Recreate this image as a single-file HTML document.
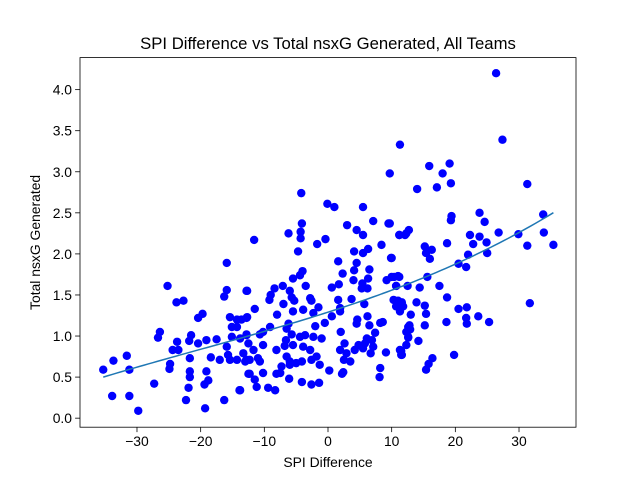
<!DOCTYPE html>
<html><head><meta charset="utf-8">
<style>
body{margin:0;background:#fff;}
svg{display:block;font-family:"Liberation Sans",sans-serif;}
</style></head>
<body>
<svg id="chart" width="640" height="480" viewBox="0 0 640 480">
<rect width="640" height="480" fill="#fff"/>
<text x="328" y="49" text-anchor="middle" font-size="16.7" fill="#000">SPI Difference vs Total nsxG Generated, All Teams</text>
<text x="328" y="467" text-anchor="middle" font-size="13.9" fill="#000">SPI Difference</text>
<text transform="translate(40,242.4) rotate(-90)" text-anchor="middle" font-size="13.9" fill="#000">Total nsxG Generated</text>
<g id="ticks"></g>
<g id="marks"></g>
<rect x="80" y="57.6" width="496" height="369.6" fill="none" stroke="#000" stroke-width="0.8"/>
</svg>
<script>
const xTicks = [-30,-20,-10,0,10,20,30];
const xTickLabels = ["\u221230","\u221220","\u221210","0","10","20","30"];
const yTicks = [0,0.5,1,1.5,2,2.5,3,3.5,4];
const yTickLabels = ["0.0","0.5","1.0","1.5","2.0","2.5","3.0","3.5","4.0"];
const spiDiff = [-15.9,-25.2,-23.8,-22.7,-20.4,-19.7,-26.4,-26.7,-23.7,-24.4,-23.5,-21.5,-21.8,-20.4,-19.1,-17.5,-21.7,-18.4,-17.0,-24.8,-24.9,-21.7,-21.7,-19.1,-18.8,-19.4,-21.9,-22.3,-19.3,-16.3,-13.9,-27.3,-35.3,-33.7,-31.6,-31.2,-33.9,-31.2,-29.8,-15.9,-16.3,-12.8,-15.4,-14.3,-15.1,-14.3,-12.8,-15.1,-15.7,-15.9,-15.4,-14.3,-12.8,-12.5,-12.8,
-4.2,-0.1,1.0,5.5,7.1,9.5,11.2,12.3,3.0,4.5,5.5,-4.1,-4.3,-4.3,-6.2,-11.6,-1.7,-0.4,-4.7,4.1,5.5,6.3,8.4,9.9,1.6,4.5,4.1,2.3,4.0,6.5,-4.0,-4.4,-5.5,6.3,5.4,6.2,5.3,1.7,0.6,-3.5,-7.1,-8.4,-9.0,-9.2,-6.0,-5.7,-5.3,-12.7,9.2,10.4,11.2,10.7,-2.8,-2.6,-1.5,-2.3,-7.0,-11.5,-5.5,-3.9,-8.0,1.6,3.7,5.7,1.9,0.6,1.9,10.3,11.0,11.6,11.8,11.3,-12.7,-13.6,6.2,4.6,4.5,6.5,8.2,8.6,-6.2,-2.0,-0.5,-9.1,-10.2,-10.7,-12.8,-12.5,-11.7,-13.8,-6.5,-5.7,-6.6,-6.8,-5.5,-3.9,-2.8,-4.4,-3.6,-2.3,-1.0,2.0,2.6,1.9,2.9,4.2,4.8,5.8,6.1,6.9,7.4,7.1,6.7,5.5,-8.1,-10.2,-11.0,-10.7,-12.3,-13.0,-13.3,-6.5,-6.0,-7.3,-7.5,-8.1,-6.0,-4.1,-5.0,-2.6,-1.8,-1.3,-12.3,-10.2,-11.5,-11.2,-9.4,-8.3,-13.8,-6.1,-4.1,-2.6,-1.4,0.2,2.4,2.2,2.5,3.5,8.2,8.1,9.1,11.5,11.6,12.3,12.6,12.6,
26.4,27.4,11.3,15.9,19.1,18.0,19.3,17.1,14.0,31.3,9.7,19.4,19.3,23.8,24.6,26.8,22.3,23.8,22.8,24.9,25.0,22.0,20.5,21.7,29.9,33.8,33.9,31.3,35.4,9.7,11.2,12.1,12.7,18.7,15.2,16.3,15.4,16.0,10.0,15.6,14.4,17.5,18.7,12.5,10.7,11.0,10.0,31.7,20.5,21.8,21.7,21.8,23.6,25.3,18.6,13.9,15.2,15.4,15.2,13.0,12.8,12.9,14.2,12.6,12.3,11.3,11.5,16.4,15.8,15.4,19.8,11.6,10.7];
const nsxG = [1.89,1.61,1.41,1.43,1.22,1.27,1.05,0.98,0.93,0.83,0.83,1.01,0.94,0.91,0.95,0.96,0.73,0.74,0.71,0.66,0.60,0.57,0.50,0.57,0.46,0.41,0.37,0.22,0.12,0.22,0.34,0.42,0.59,0.70,0.76,0.59,0.27,0.27,0.09,1.56,1.48,1.55,1.23,1.20,1.11,1.11,1.22,0.99,0.77,0.87,0.71,0.71,0.71,0.54,1.01,
2.74,2.61,2.57,2.57,2.40,2.37,2.23,2.25,2.35,2.29,2.23,2.37,2.27,2.19,2.25,2.17,2.12,2.18,2.03,2.03,2.01,2.06,2.11,1.95,1.91,1.89,1.80,1.76,1.68,1.81,1.79,1.74,1.70,1.70,1.64,1.58,1.58,1.63,1.59,1.61,1.61,1.58,1.50,1.44,1.55,1.47,1.43,1.55,1.68,1.72,1.72,1.61,1.46,1.43,1.35,1.28,1.39,1.33,1.30,1.32,1.26,1.44,1.45,1.39,1.34,1.24,1.30,1.44,1.43,1.41,1.36,1.30,1.23,1.20,1.24,1.20,1.15,1.13,1.16,1.17,1.15,1.12,1.16,1.11,1.05,1.02,1.02,0.91,0.83,0.97,1.09,1.02,0.95,0.88,0.89,0.87,0.83,0.99,1.01,0.99,0.97,1.05,0.91,0.83,0.79,0.83,0.89,0.91,0.97,0.95,1.04,0.87,0.79,0.85,0.83,0.89,0.73,0.69,0.71,0.69,0.79,0.75,0.69,0.63,0.55,0.54,0.65,0.69,0.67,0.71,0.75,0.65,0.54,0.55,0.47,0.38,0.37,0.34,0.34,0.48,0.44,0.41,0.43,0.58,0.56,0.54,0.71,0.69,0.61,0.50,0.80,0.82,0.77,1.05,0.99,1.11,
4.20,3.39,3.33,3.07,3.10,2.98,2.86,2.81,2.79,2.85,2.98,2.46,2.41,2.50,2.39,2.26,2.23,2.21,2.12,2.14,2.01,1.99,1.88,1.84,2.24,2.48,2.26,2.10,2.11,2.37,2.23,2.23,2.29,2.13,2.09,2.05,2.01,1.94,1.95,1.72,1.59,1.61,1.47,1.61,1.61,1.73,1.72,1.40,1.33,1.35,1.22,1.15,1.24,1.17,1.17,1.41,1.37,1.27,1.13,1.26,1.13,1.08,0.94,0.98,0.89,0.83,0.77,0.73,0.66,0.59,0.77,1.36,1.36];

const X0=80,X1=576,Y0=57.6,Y1=427.2;
const xMin=-38.95,xMax=38.95,yMin=-0.11,yMax=4.39;
function sx(v){return X0+(v-xMin)/(xMax-xMin)*(X1-X0);}
function sy(v){return Y1-(v-yMin)/(yMax-yMin)*(Y1-Y0);}
const NS="http://www.w3.org/2000/svg";
const ticks=document.getElementById('ticks');
const marks=document.getElementById('marks');

xTicks.forEach((t,i)=>{
  const x=sx(t);
  const l=document.createElementNS(NS,'line');
  l.setAttribute('x1',x);l.setAttribute('x2',x);l.setAttribute('y1',Y1);l.setAttribute('y2',Y1+4.9);
  l.setAttribute('stroke','#000');l.setAttribute('stroke-width','0.8');
  
  
  ticks.appendChild(l);
  const tx=document.createElementNS(NS,'text');
  tx.setAttribute('x',x);tx.setAttribute('y',Y1+19);tx.setAttribute('text-anchor','middle');tx.setAttribute('font-size','13.9');
  tx.textContent=xTickLabels[i];
  
  
  ticks.appendChild(tx);
});
yTicks.forEach((t,i)=>{
  const y=sy(t);
  const l=document.createElementNS(NS,'line');
  l.setAttribute('x1',X0-4.9);l.setAttribute('x2',X0);l.setAttribute('y1',y);l.setAttribute('y2',y);
  l.setAttribute('stroke','#000');l.setAttribute('stroke-width','0.8');
  
  
  ticks.appendChild(l);
  const tx=document.createElementNS(NS,'text');
  tx.setAttribute('x',X0-8);tx.setAttribute('y',y+5);tx.setAttribute('text-anchor','end');tx.setAttribute('font-size','13.9');
  tx.textContent=yTickLabels[i];
  
  
  ticks.appendChild(tx);
});

spiDiff.forEach((v,i)=>{
  const c=document.createElementNS(NS,'circle');
  c.setAttribute('cx',sx(v));c.setAttribute('cy',sy(nsxG[i]));c.setAttribute('r','4.2');c.setAttribute('fill','#0000ff');
  
  
  marks.appendChild(c);
});

// cubic least-squares trend line from the data
(function(){
  const deg=3,m=deg+1,n=spiDiff.length;
  const S=new Array(2*deg+1).fill(0),T=new Array(m).fill(0);
  for(let i=0;i<n;i++){const x=spiDiff[i]/10,y=nsxG[i];let p=1;for(let k=0;k<=2*deg;k++){S[k]+=p;if(k<m)T[k]+=p*y;p*=x;}}
  const A=[];for(let r=0;r<m;r++){A.push([]);for(let c=0;c<m;c++)A[r].push(S[r+c]);A[r].push(T[r]);}
  for(let c=0;c<m;c++){for(let r=c+1;r<m;r++){const f=A[r][c]/A[c][c];for(let k=c;k<=m;k++)A[r][k]-=f*A[c][k];}}
  const b=new Array(m).fill(0);for(let r=m-1;r>=0;r--){let s=A[r][m];for(let k=r+1;k<m;k++)s-=A[r][k]*b[k];b[r]=s/A[r][r];}
  const lo=Math.min(...spiDiff),hi=Math.max(...spiDiff);let d='';
  for(let j=0;j<=100;j++){const x=lo+(hi-lo)*j/100;const u=x/10;let y=0,p=1;for(let k=0;k<m;k++){y+=b[k]*p;p*=u;}d+=(j?'L':'M')+sx(x).toFixed(2)+','+sy(y).toFixed(2);}
  const p=document.createElementNS(NS,'path');
  p.setAttribute('d',d);p.setAttribute('fill','none');p.setAttribute('stroke','#1f77b4');p.setAttribute('stroke-width','1.5');
  
  
  marks.appendChild(p);
})();
</script>
</body></html>
